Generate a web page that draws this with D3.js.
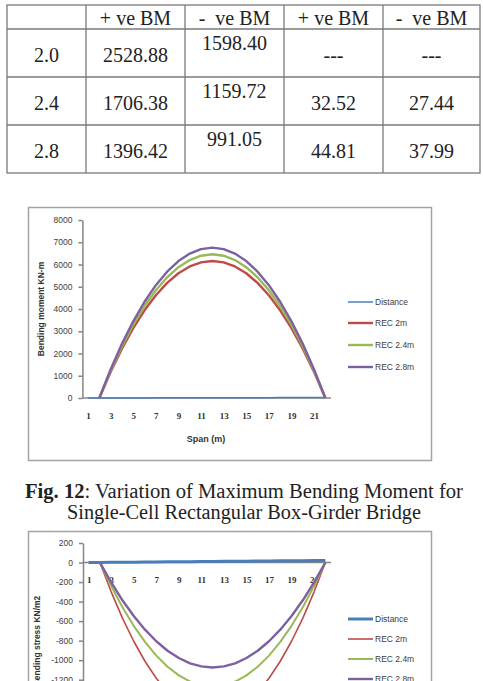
<!DOCTYPE html>
<html>
<head>
<meta charset="utf-8">
<script src="https://cdn.jsdelivr.net/npm/d3@7"></script>
<style>
  body { margin: 0; background: #fff; }
  svg { display: block; }
</style>
</head>
<body>
<div id="page"></div>
<script>
// ---- table data ----
const tableHeader = ['', '+ ve BM', '-  ve BM', '+ ve BM', '-  ve BM'];
const tableDepths = ['2.0', '2.4', '2.8'];
const tablePosBM = ['2528.88', '1706.38', '1396.42'];
const tableNegBM = ['1598.40', '1159.72', '991.05'];
const tablePosBM2 = ['---', '32.52', '44.81'];
const tableNegBM2 = ['---', '27.44', '37.99'];

// ---- chart data (categories along the span) ----
const categories = [1, 2, 3, 4, 5, 6, 7, 8, 9, 10, 11, 12, 13, 14, 15, 16, 17, 18, 19, 20, 21, 22];
const categoryTicks = [1, 3, 5, 7, 9, 11, 13, 15, 17, 19, 21];
const distance = [0, 1, 2, 3, 4, 5, 6, 7, 8, 9, 10, 11, 12, 13, 14, 15, 16, 17, 18, 19, 20, 21];

// Fig. 12 bending moment (kN-m)
const bmRec2 = [null, 0, 1170, 2218, 3142, 3942, 4620, 5174, 5606, 5914, 6098, 6160, 6098, 5914, 5606, 5174, 4620, 3942, 3142, 2218, 1170, 0];
const bmRec24 = [null, 0, 1227, 2326, 3295, 4134, 4845, 5426, 5879, 6202, 6395, 6460, 6395, 6202, 5879, 5426, 4845, 4134, 3295, 2326, 1227, 0];
const bmRec28 = [null, 0, 1284, 2434, 3448, 4326, 5070, 5678, 6152, 6490, 6692, 6760, 6692, 6490, 6152, 5678, 5070, 4326, 3448, 2434, 1284, 0];
const bmTicks = [0, 1000, 2000, 3000, 4000, 5000, 6000, 7000, 8000];

// bending stress (kN/m2)
const bsRec2 = [null, 0, -300, -569, -806, -1011, -1185, -1327, -1438, -1517, -1564, -1580, -1564, -1517, -1438, -1327, -1185, -1011, -806, -569, -300, 0];
const bsRec24 = [null, 0, -241, -457, -648, -813, -953, -1067, -1156, -1219, -1257, -1270, -1257, -1219, -1156, -1067, -953, -813, -648, -457, -241, 0];
const bsRec28 = [null, 0, -204, -387, -548, -688, -806, -903, -978, -1032, -1064, -1075, -1064, -1032, -978, -903, -806, -688, -548, -387, -204, 0];
const bsTicks = [200, 0, -200, -400, -600, -800, -1000, -1200, -1400, -1600, -1800];

const seriesNames = ['Distance', 'REC 2m', 'REC 2.4m', 'REC 2.8m'];
const seriesColors = ['#4a7ebb', '#be4b48', '#98b954', '#7d60a0'];

const W = 483, H = 681;
const svg = d3.select('#page').append('svg')
    .attr('width', W)
    .attr('height', H);

const serif = '"Liberation Serif", "Times New Roman", serif';
const sans = '"Liberation Sans", Arial, sans-serif';

// ---------------- table ----------------
const colEdges = [7, 86, 185, 284, 383, 480];
const rowEdges = [5, 29, 77, 125, 173];
const table = svg.append('g');

table.append('rect')
    .attr('x', colEdges[0]).attr('y', rowEdges[0])
    .attr('width', colEdges[5] - colEdges[0])
    .attr('height', rowEdges[4] - rowEdges[0])
    .attr('fill', 'none').attr('stroke', '#7a7a7a').attr('stroke-width', 1.3);
colEdges.slice(1, -1).forEach(x => {
    table.append('line').attr('x1', x).attr('x2', x)
        .attr('y1', rowEdges[0]).attr('y2', rowEdges[4])
        .attr('stroke', '#7a7a7a').attr('stroke-width', 1.3);
});
rowEdges.slice(1, -1).forEach(y => {
    table.append('line').attr('y1', y).attr('y2', y)
        .attr('x1', colEdges[0]).attr('x2', colEdges[5])
        .attr('stroke', '#7a7a7a').attr('stroke-width', 1.3);
});

function cell(col, baseline, txt) {
    table.append('text')
        .attr('x', (colEdges[col] + colEdges[col + 1]) / 2)
        .attr('y', baseline)
        .attr('text-anchor', 'middle')
        .style('font-family', serif)
        .style('font-size', '20px')
        .style('white-space', 'pre')
        .style('fill', '#222')
        .text(txt);
}
tableHeader.forEach((h, i) => { if (h) cell(i, 25, h); });
tableDepths.forEach((d, r) => {
    const base = rowEdges[r + 1] + 33;
    cell(0, base, d);
    cell(1, base, tablePosBM[r]);
    cell(2, base - 12, tableNegBM[r]);
    cell(3, base, tablePosBM2[r]);
    cell(4, base, tableNegBM2[r]);
});

// ---------------- helper for the two charts ----------------
function drawChart(opts) {
    const g = svg.append('g');

    g.append('rect')
        .attr('x', opts.frame[0]).attr('y', opts.frame[1])
        .attr('width', opts.frame[2]).attr('height', opts.frame[3])
        .attr('fill', '#fff').attr('stroke', '#a3a3a3').attr('stroke-width', 1.5);

    const x = d3.scalePoint()
        .domain(categories)
        .range([opts.plotX[0], opts.plotX[1]])
        .padding(0.5);

    const y = d3.scaleLinear()
        .domain(opts.yDomain)
        .range(opts.yRange);

    // y axis
    const yAxis = g.append('g')
        .attr('transform', `translate(${opts.plotX[0]},0)`)
        .call(d3.axisLeft(y).tickValues(opts.yTicks).tickFormat(d => String(d))
            .tickSize(4).tickSizeOuter(0).tickPadding(6));
    yAxis.selectAll('path, line').attr('stroke', '#868686').attr('stroke-width', 1.5);
    yAxis.selectAll('text')
        .style('font-family', sans).style('font-size', '8.5px').style('fill', '#404040');

    // x axis (crosses at zero)
    const xAxis = g.append('g')
        .attr('transform', `translate(0,${y(0)})`)
        .call(d3.axisBottom(x).tickValues(categoryTicks).tickSize(0).tickPadding(opts.xPad));
    xAxis.select('path').attr('d', `M${opts.plotX[0]},0H${opts.plotX[1]}`)
        .attr('stroke', '#868686').attr('stroke-width', 1.5);
    xAxis.selectAll('text')
        .style('font-family', serif).style('font-weight', 'bold')
        .style('font-size', '9px').style('fill', '#333');

    // axis titles
    if (opts.xTitle) {
        g.append('text')
            .attr('x', opts.xTitle[1]).attr('y', opts.xTitle[2])
            .attr('text-anchor', 'middle')
            .style('font-family', sans).style('font-weight', 'bold')
            .style('font-size', '9px').style('fill', '#333')
            .text(opts.xTitle[0]);
    }
    g.append('text')
        .attr('transform', `translate(${opts.yTitle[1]},${opts.yTitle[2]}) rotate(-90)`)
        .attr('text-anchor', 'middle')
        .style('font-family', sans).style('font-weight', 'bold')
        .style('font-size', '8.5px').style('fill', '#333')
        .text(opts.yTitle[0]);

    // series
    const line = d3.line()
        .defined(d => d.v !== null)
        .x(d => x(d.c))
        .y(d => y(d.v));

    opts.series.forEach((vals, i) => {
        g.append('path')
            .datum(categories.map((c, k) => ({ c: c, v: vals[k] })))
            .attr('d', line)
            .attr('fill', 'none')
            .attr('stroke', seriesColors[i])
            .attr('stroke-width', opts.widths[i])
            .attr('stroke-linejoin', 'round');
    });

    // legend
    seriesNames.forEach((name, i) => {
        const ly = opts.legendY[i];
        g.append('line')
            .attr('x1', 348).attr('x2', 373)
            .attr('y1', ly).attr('y2', ly)
            .attr('stroke', seriesColors[i])
            .attr('stroke-width', opts.widths[i]);
        g.append('text')
            .attr('x', 375).attr('y', ly)
            .attr('dy', '0.35em')
            .style('font-family', sans).style('font-size', '8.5px').style('fill', '#404040')
            .text(name);
    });
}

// Fig. 12 chart
drawChart({
    frame: [28.5, 207.5, 403, 253],
    plotX: [82.4, 331],
    yDomain: [0, 8000],
    yRange: [398, 220],
    yTicks: bmTicks,
    xPad: 15,
    xTitle: ['Span (m)', 206, 442],
    yTitle: ['Bending moment KN-m', 44, 309],
    series: [distance, bmRec2, bmRec24, bmRec28],
    widths: [1.5, 2.4, 2.4, 2.4],
    legendY: [302, 323, 345, 367]
});

// caption
const caption = svg.append('g')
    .style('font-family', serif)
    .style('font-size', '20px')
    .style('fill', '#222');
const cap1 = caption.append('text')
    .attr('x', 244).attr('y', 498)
    .attr('text-anchor', 'middle')
    .attr('textLength', 438).attr('lengthAdjust', 'spacingAndGlyphs');
cap1.append('tspan').style('font-weight', 'bold').text('Fig. 12');
cap1.append('tspan').text(': Variation of Maximum Bending Moment for');
caption.append('text')
    .attr('x', 244).attr('y', 519)
    .attr('text-anchor', 'middle')
    .attr('textLength', 354).attr('lengthAdjust', 'spacingAndGlyphs')
    .text('Single-Cell Rectangular Box-Girder Bridge');

// bending stress chart (cut off by the page)
drawChart({
    frame: [28.5, 531.5, 403, 260],
    plotX: [83, 331],
    yDomain: [-1800, 200],
    yRange: [738.3, 543],
    yTicks: bsTicks,
    xPad: 14,
    xTitle: null,
    yTitle: ['Bending stress KN/m2', 40, 641],
    series: [distance, bsRec2, bsRec24, bsRec28],
    widths: [3, 1.6, 2, 2.4],
    legendY: [619, 639, 659, 679]
});
</script>
</body>
</html>
